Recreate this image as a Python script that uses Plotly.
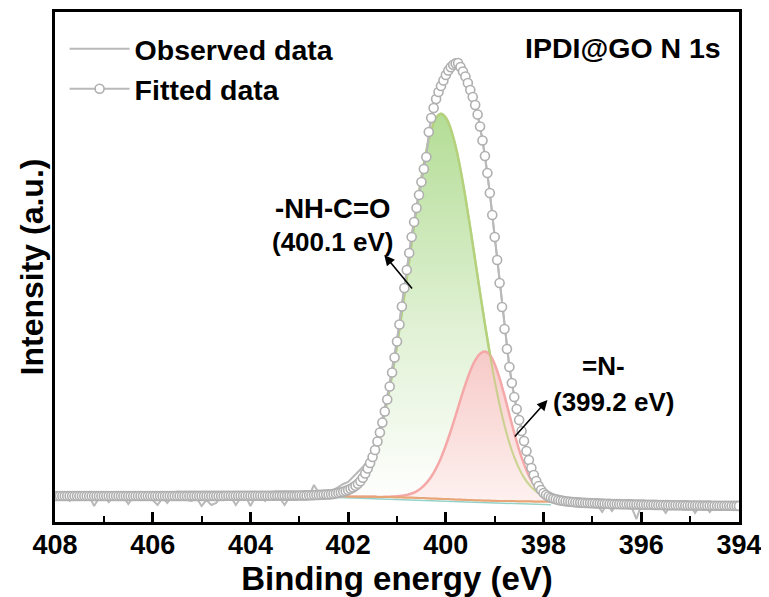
import plotly.graph_objects as go

# ---------------- data ----------------
# Binding-energy grids (eV): start value and step of each regularly sampled series
FIT_E0, FIT_DE = 408.0, -0.05      # fitted envelope (281 points, 408 -> 394)
OBS_E0, OBS_DE = 408.0, -0.1       # observed spectrum (141 points, 408 -> 394)
CMP_E0, CMP_DE = 402.3, -0.1       # fitted components (46 points, 402.3 -> 397.8)

observed = [
    26, 27, 25, 21, 26, 27, 25, 26, 16, 24,
    27, 20, 26, 27, 25, 18, 25, 27, 26, 25,
    22, 17, 24, 19, 26, 27, 25, 22, 21, 24,
    16, 22, 17, 19, 26, 27, 25, 17, 24, 26,
    16, 25, 26, 21, 27, 26, 24, 17, 25, 27,
    24, 28, 26, 37, 29, 30, 29, 32, 35, 38,
    40, 45, 49, 55, 61, 70, 86, 104, 126, 152,
    182, 218, 254, 287, 316, 342, 368, 402, 425, 438,
    448, 455, 459, 458, 445, 432, 417, 396, 366, 329,
    285, 239, 193, 155, 125, 102, 81, 62, 47, 36,
    29, 25, 23, 21, 21, 20, 19, 20, 18, 19,
    19, 17, 10, 18, 11, 18, 17, 18, 15, 3,
    17, 18, 16, 17, 16, 9, 17, 16, 17, 16,
    17, 9, 16, 17, 10, 16, 17, 16, 15, 16,
    16,
]

fitted = [
    26.0, 26.0, 26.0, 26.0, 26.0, 26.0, 26.0, 26.0, 26.0, 26.0, 26.0, 26.0, 26.0, 26.0, 26.0, 26.0, 26.0, 26.0, 26.0, 26.0,
    26.0, 26.0, 26.0, 26.0, 26.0, 26.0, 26.0, 26.0, 26.0, 26.0, 26.0, 26.0, 26.0, 26.0, 26.0, 26.0, 26.0, 26.0, 26.0, 26.0,
    26.0, 26.0, 26.0, 26.0, 26.0, 26.0, 26.0, 26.0, 26.0, 26.0, 26.1, 26.1, 26.1, 26.1, 26.1, 26.1, 26.1, 26.1, 26.1, 26.1,
    26.1, 26.1, 26.1, 26.1, 26.1, 26.1, 26.1, 26.1, 26.1, 26.1, 26.2, 26.2, 26.2, 26.2, 26.2, 26.2, 26.2, 26.2, 26.2, 26.2,
    26.3, 26.3, 26.3, 26.3, 26.3, 26.3, 26.3, 26.3, 26.3, 26.3, 26.4, 26.4, 26.4, 26.4, 26.4, 26.4, 26.4, 26.4, 26.4, 26.4,
    26.5, 26.5, 26.6, 26.6, 26.7, 26.8, 26.9, 27.0, 27.1, 27.2, 27.4, 27.5, 27.6, 27.8, 28.1, 28.5, 29.0, 29.6, 30.3, 31.1,
    32.0, 33.2, 34.6, 36.2, 38.2, 40.8, 44.2, 48.5, 53.5, 59.0, 65.0, 72.0, 80.5, 89.5, 99.5, 110.5, 122.5, 135.5, 149.5, 164.5,
    180.5, 197.5, 215.5, 234.0, 252.0, 269.0, 285.0, 300.0, 314.0, 327.0, 340.0, 353.0, 365.0, 390.0, 404.0, 414.0, 423.0, 430.0, 436.0, 441.5,
    447.0, 451.5, 454.8, 457.2, 458.6, 459.0, 455.0, 450.5, 445.5, 439.0, 432.0, 425.0, 417.0, 407.5, 395.5, 381.5, 366.0, 349.0, 329.0, 307.0,
    285.0, 262.0, 239.0, 215.0, 193.0, 173.0, 155.0, 139.0, 125.0, 113.0, 102.0, 91.0, 81.0, 71.0, 62.0, 54.0, 47.0, 41.0, 36.0, 32.0,
    29.0, 27.0, 25.5, 24.3, 23.4, 22.7, 22.1, 21.6, 21.2, 20.8, 20.5, 20.2, 20.0, 19.8, 19.6, 19.4, 19.2, 19.1, 19.0, 18.9,
    18.8, 18.7, 18.6, 18.5, 18.4, 18.3, 18.2, 18.1, 18.0, 17.95, 17.9, 17.85, 17.8, 17.75, 17.7, 17.65, 17.6, 17.55, 17.5, 17.45,
    17.4, 17.35, 17.3, 17.25, 17.2, 17.15, 17.1, 17.05, 17.0, 16.95, 16.9, 16.85, 16.8, 16.8, 16.75, 16.7, 16.7, 16.65, 16.6, 16.6,
    16.55, 16.5, 16.5, 16.45, 16.45, 16.4, 16.4, 16.35, 16.35, 16.3, 16.3, 16.3, 16.25, 16.25, 16.2, 16.2, 16.2, 16.2, 16.15, 16.15,
    16.1,
]

background = [
    25.5, 25.5, 25.4, 25.4, 25.3, 25.3, 25.3, 25.2, 25.2, 25.1,
    25.0, 25.0, 24.9, 24.8, 24.7, 24.5, 24.4, 24.2, 24.0, 23.8,
    23.6, 23.4, 23.2, 23.0, 22.8, 22.6, 22.4, 22.2, 22.0, 21.8,
    21.7, 21.5, 21.4, 21.2, 21.1, 21.0, 20.9, 20.9, 20.8, 20.7,
    20.7, 20.6, 20.6, 20.6, 20.5, 20.5,
]

# component peaks (drawn on top of the background)
nh_co_400 = [
    27.0, 27.9, 29.3, 31.5, 34.7, 39.3, 45.7, 54.3, 65.8, 80.4,
    98.7, 121.0, 147.1, 176.7, 209.4, 243.9, 279.1, 313.1, 344.4, 371.0,
    391.3, 404.0, 408.2, 404.3, 393.2, 375.6, 352.4, 324.7, 294.1, 261.8,
    229.4, 197.8, 168.2, 141.1, 117.1, 96.4, 79.0, 64.9, 53.4, 44.4,
    37.6, 32.4, 28.7, 26.1, 24.1, 22.8,
]
n_eq_399 = [
    25.5, 25.5, 25.4, 25.4, 25.3, 25.3, 25.3, 25.2, 25.2, 25.1,
    25.1, 25.3, 25.4, 25.7, 26.2, 27.0, 28.5, 30.7, 34.1, 38.8,
    45.2, 53.6, 64.1, 76.7, 91.0, 106.5, 122.4, 137.6, 151.1, 161.6,
    168.3, 170.5, 167.2, 157.8, 143.7, 126.3, 107.5, 89.1, 72.2, 57.9,
    46.4, 37.6, 31.4, 27.1, 24.3, 22.6,
]
linear_bg_e = [402.2, 397.85]
linear_bg = [24.5, 17.2]

# ---------------- styling ----------------
FONT = "Liberation Sans, Arial, sans-serif"
GRAY = "rgb(185,185,185)"
GREEN = "rgb(168,215,132)"
RED = "rgb(244,168,168)"
ORANGE = "rgb(232,165,120)"
TEAL = "rgb(150,210,200)"

fig = go.Figure()

common = dict(x0=CMP_E0, dx=CMP_DE, hoverinfo="skip", showlegend=False)

fig.add_trace(go.Scatter(y=background, mode="lines", line=dict(color=ORANGE, width=2, shape="spline"), **common))
fig.add_trace(go.Scatter(
    y=nh_co_400, mode="lines", line=dict(color=GREEN, width=2.5, shape="spline"),
    fill="tonexty",
    fillgradient=dict(type="vertical", start=20, stop=408,
                      colorscale=[[0, "rgb(255,255,255)"], [0.45, "rgb(224,241,212)"], [1, "rgb(180,221,150)"]]),
    **common))
fig.add_trace(go.Scatter(y=background, mode="lines", line=dict(color=ORANGE, width=0, shape="spline"), **common))
fig.add_trace(go.Scatter(
    y=n_eq_399, mode="lines", line=dict(color=RED, width=2.5, shape="spline"),
    fill="tonexty",
    fillgradient=dict(type="vertical", start=20, stop=171,
                      colorscale=[[0, "rgba(253,240,238,0.92)"], [1, "rgba(248,198,198,0.92)"]]),
    **common))
fig.add_trace(go.Scatter(y=nh_co_400, mode="lines",
                         line=dict(color="rgba(190,205,120,0.75)", width=2, shape="spline"), **common))
fig.add_trace(go.Scatter(x=linear_bg_e, y=linear_bg, mode="lines", line=dict(color=TEAL, width=1.5),
                         hoverinfo="skip", showlegend=False))
fig.add_trace(go.Scatter(y=background, mode="lines", line=dict(color=ORANGE, width=2, shape="spline"), **common))

fig.add_trace(go.Scatter(
    x0=OBS_E0, dx=OBS_DE, y=observed, mode="lines", name="Observed data",
    line=dict(color=GRAY, width=2)))
fig.add_trace(go.Scatter(
    x0=FIT_E0, dx=FIT_DE, y=fitted, mode="lines+markers", name="Fitted data",
    line=dict(color=GRAY, width=2),
    marker=dict(symbol="circle", size=9, color="white", line=dict(color="rgb(175,175,175)", width=1.6))))

bold = dict(family=FONT, color="black", weight="bold")

# the page body adds an 8 px offset, so the figure is 8 px smaller than the window
fig.update_layout(
    width=761, height=589,
    margin=dict(l=47, r=30, t=4, b=75, autoexpand=False),
    paper_bgcolor="white", plot_bgcolor="white",
    showlegend=True,
    legend=dict(x=0.014, y=0.977, xanchor="left", yanchor="top", bgcolor="rgba(0,0,0,0)",
                traceorder="normal",
                font=dict(size=28.5, **bold), itemwidth=60, tracegroupgap=0),
    xaxis=dict(range=[408, 394], tickvals=[408, 406, 404, 402, 400, 398, 396, 394],
               ticks="inside", ticklen=10, tickwidth=2.5, tickcolor="black",
               minor=dict(dtick=1, ticks="inside", ticklen=6, tickwidth=2, tickcolor="black"),
               showline=True, linewidth=2.5, linecolor="black", mirror=True,
               showgrid=False, zeroline=False, automargin=False,
               tickfont=dict(size=27, **bold), ticklabelstandoff=-3,
               title=dict(text="Binding energy (eV)", font=dict(size=33, **bold), standoff=2)),
    yaxis=dict(range=[0, 510], showticklabels=False, ticks="",
               showline=True, linewidth=2.5, linecolor="black", mirror=True,
               showgrid=False, zeroline=False, automargin=False,
               title=dict(text="Intensity (a.u.)", font=dict(size=32, **bold), standoff=0)),
)

ann_font = dict(size=26, **bold)
fig.add_annotation(x=402.32, y=314, text="-NH-C=O", showarrow=False, font=dict(size=27.5, **bold))
fig.add_annotation(x=402.32, y=280, text="(400.1 eV)", showarrow=False, font=ann_font)
fig.add_annotation(x=396.77, y=156, text="=N-", showarrow=False, font=ann_font)
fig.add_annotation(x=396.57, y=120, text="(399.2 eV)", showarrow=False, font=ann_font)
fig.add_annotation(x=401.26, y=267, ax=29, ay=35, text="", showarrow=True,
                   arrowhead=2, arrowsize=1.3, arrowwidth=1.6, arrowcolor="black", standoff=0)
fig.add_annotation(x=397.92, y=122, ax=-34, ay=38, text="", showarrow=True,
                   arrowhead=2, arrowsize=1.3, arrowwidth=1.6, arrowcolor="black", standoff=0)
fig.add_annotation(xref="paper", yref="paper", x=0.9766, y=0.929, xanchor="right", yanchor="middle",
                   text="IPDI@GO N 1s", showarrow=False, font=dict(size=28.5, **bold))

fig.write_html("out.html")
